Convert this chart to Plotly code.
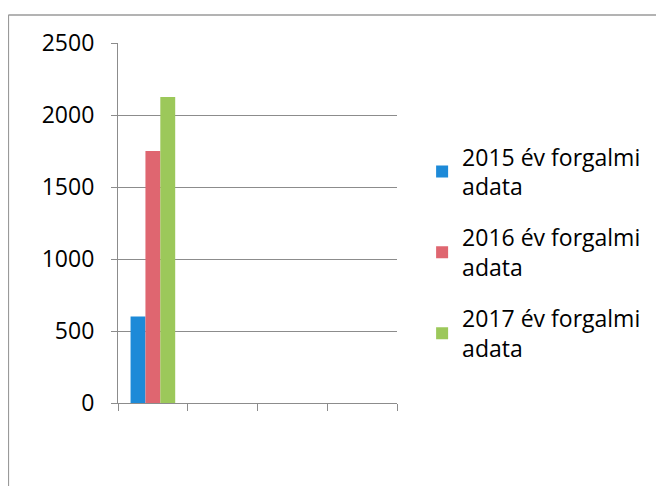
import plotly.graph_objects as go

categories = ["1", "2", "3", "4"]
series_names = ["2015 év forgalmi<br>adata", "2016 év forgalmi<br>adata", "2017 év forgalmi<br>adata"]
values_2015 = [600, None, None, None]
values_2016 = [1750, None, None, None]
values_2017 = [2125, None, None, None]
y_ticks = [0, 500, 1000, 1500, 2000, 2500]

colors = ["#1d8ad8", "#df6670", "#9cc85a"]

fig = go.Figure()
for i, (name, vals) in enumerate(zip(series_names, [values_2015, values_2016, values_2017])):
    fig.add_trace(go.Bar(x=categories, y=vals, name=name, marker=dict(color=colors[i], line=dict(width=0)),
                         legendgroup=str(i)))

fig.update_layout(
    width=656, height=478,
    margin=dict(l=110, r=267, t=35, b=83),
    paper_bgcolor="white", plot_bgcolor="white",
    barmode="group", bargap=0.36, bargroupgap=0,
    font=dict(family="Open Sans", color="#000000"),
    legend=dict(x=1.09, y=0.744, xanchor="left", yanchor="top",
                font=dict(size=23, family="Open Sans", color="#000000"),
                traceorder="grouped", tracegroupgap=18, itemwidth=30),
    showlegend=True,
)
fig.update_xaxes(type="category", range=[-0.5, 3.5], showticklabels=False,
                 tickson="boundaries", ticks="outside", ticklen=7, tickcolor="#8c8c8c",
                 showline=True, linecolor="#8c8c8c", linewidth=1.2, showgrid=False, zeroline=False)
fig.update_yaxes(range=[0, 2500], tickvals=y_ticks, ticks="outside", ticklen=6, tickcolor="#8c8c8c",
                 showline=True, linecolor="#8c8c8c", linewidth=1.2,
                 showgrid=True, gridcolor="#8c8c8c", gridwidth=1.2, zeroline=False,
                 tickfont=dict(size=23, family="Open Sans", color="#000000"), ticklabelstandoff=12)

# outer chart frame (partially cropped in the reference)
fig.add_shape(type="line", xref="paper", yref="paper", x0=-0.393, x1=-0.393, y0=-0.3, y1=1.078,
              line=dict(color="#9a9a9a", width=1.5))
fig.add_shape(type="line", xref="paper", yref="paper", x0=-0.393, x1=2.0, y0=1.078, y1=1.078,
              line=dict(color="#9a9a9a", width=1.5))

fig.write_html("out.html")
